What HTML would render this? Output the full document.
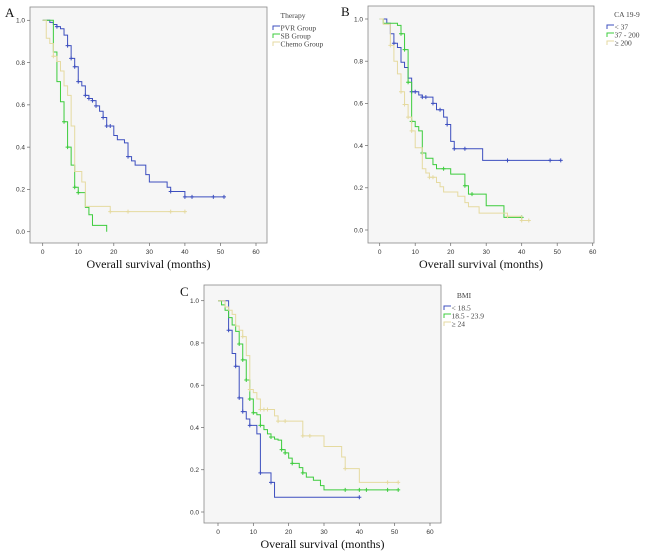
<!DOCTYPE html>
<html><head><meta charset="utf-8"><style>
body{margin:0;background:#fff;}
svg{display:block;font-family:"Liberation Serif",serif;}
</style></head><body>
<svg id="s" width="650" height="555"></svg>
<script>
// Panel A
const aPvrT=[0,2,3,4,5,6,7,8,9,10,11,12,13,14,15,16,17,18,20,21,23,24,25,26,29,30,35,36,40];
const aPvrS=[1,0.99,0.98,0.97,0.96,0.93,0.88,0.82,0.78,0.71,0.69,0.645,0.63,0.62,0.595,0.57,0.54,0.5,0.455,0.435,0.42,0.355,0.335,0.315,0.27,0.235,0.21,0.19,0.165];
const aPvrC=[4,7,8,9,10,12,13,14,15,17,18,19,24,36,40,42,48,51];
const aSbT=[0,3,4,5,6,7,8,9,10,12,13,14,18];
const aSbS=[1,0.85,0.71,0.615,0.52,0.40,0.315,0.21,0.185,0.115,0.08,0.03,0.0];
const aSbC=[6,7,9,10];
const aChT=[0,1,2,3,4,5,6,7,8,9,11,12,19];
const aChS=[1,0.915,0.89,0.83,0.805,0.76,0.69,0.645,0.5,0.285,0.235,0.12,0.095];
const aChC=[3,19,24,36,40];
// Panel B
const bLoT=[0,2,3,4,5,6,7,8,9,11,12,15,16,18,19,20,21,29];
const bLoS=[1,0.98,0.93,0.885,0.865,0.795,0.77,0.72,0.655,0.64,0.63,0.6,0.57,0.535,0.5,0.42,0.385,0.33];
const bLoC=[4,9,10,12,13,15,17,19,21,24,36,48,51];
const bMidT=[0,1,5,6,7,8,9,10,11,12,13,15,16,20,24,25,30,35];
const bMidS=[1,0.98,0.97,0.93,0.855,0.7,0.515,0.49,0.47,0.365,0.34,0.31,0.29,0.265,0.21,0.17,0.115,0.06];
const bMidC=[6,7,8,9,12,18,24,26,40];
const bHiT=[0,1,3,4,5,6,7,8,9,10,12,13,14,16,17,18,22,24,25,28,36,40];
const bHiS=[1,0.975,0.875,0.8,0.74,0.655,0.595,0.535,0.47,0.39,0.29,0.27,0.25,0.225,0.205,0.18,0.16,0.13,0.11,0.08,0.065,0.045];
const bHiC=[3,6,7,8,9,14,15,36,40,42];
// Panel C
const cLoT=[0,3,4,5,6,7,8,9,11,12,15,16];
const cLoS=[1,0.86,0.75,0.69,0.54,0.475,0.44,0.41,0.37,0.185,0.14,0.07];
const cLoC=[3,5,6,7,9,12,15,40];
const cMidT=[0,1,2,3,4,5,6,7,8,9,10,11,12,13,14,15,16,17,18,19,20,21,23,24,25,27,29,30];
const cMidS=[1,0.98,0.955,0.92,0.885,0.855,0.795,0.72,0.625,0.535,0.47,0.46,0.41,0.39,0.37,0.355,0.345,0.34,0.295,0.28,0.255,0.23,0.21,0.185,0.165,0.15,0.125,0.105];
const cMidC=[6,7,8,9,10,12,15,18,19,21,24,36,40,42,48,51];
const cHiT=[0,2,3,4,5,6,7,8,9,10,11,12,16,17,24,30,35,36,40];
const cHiS=[1,0.97,0.955,0.935,0.88,0.86,0.83,0.74,0.58,0.565,0.535,0.485,0.455,0.43,0.36,0.31,0.26,0.205,0.14];
const cHiC=[7,9,12,13,14,17,19,24,26,36,48,51];
const xTicks=[0,10,20,30,40,50,60];
const yTicks=[0,0.2,0.4,0.6,0.8,1.0];

const BLUE="#3d4fbf",GREEN="#3ccc3c",YEL="#e5daa0";
const NS="http://www.w3.org/2000/svg";
const svg=document.getElementById('s');
function mk(tag,attrs,parent,text){const e=document.createElementNS(NS,tag);for(const k in attrs)e.setAttribute(k,attrs[k]);if(text!==undefined)e.textContent=text;(parent||svg).appendChild(e);return e;}

function panel(p){
  const g=mk('g',{});
  
  
  const sx=v=>p.x0+(p.x60-p.x0)*v/60, sy=v=>p.y0+(p.y1-p.y0)*v;
  const box=mk('rect',{x:p.bx,y:p.by,width:p.bw,height:p.bh,fill:"#f6f6f6",stroke:"#8a8a8a","stroke-width":0.8},g);
  
  xTicks.forEach(t=>{mk('line',{x1:sx(t),x2:sx(t),y1:p.by+p.bh,y2:p.by+p.bh+3,stroke:"#666","stroke-width":0.7},g);
    const l=mk('text',{x:sx(t),y:p.by+p.bh+11,"font-size":6.5,"text-anchor":"middle",fill:"#333","font-family":"Liberation Sans,sans-serif"},g,String(t));
    });
  yTicks.forEach(t=>{mk('line',{x1:p.bx-3,x2:p.bx,y1:sy(t),y2:sy(t),stroke:"#666","stroke-width":0.7},g);
    const l=mk('text',{x:p.bx-5,y:sy(t)+2.3,"font-size":6.5,"text-anchor":"end",fill:"#333","font-family":"Liberation Sans,sans-serif"},g,t.toFixed(1));
    });
  const xt=mk('text',{x:p.bx+p.bw/2,y:p.by+p.bh+25,"font-size":12,"text-anchor":"middle",fill:"#111"},g,"Overall survival (months)");
  
  const lab=mk('text',{x:p.lx,y:p.ly,"font-size":13,fill:"#111"},g,p.id);
  
  const lt=mk('text',{x:p.legx+20,y:p.legy,"font-size":7.5,"text-anchor":"middle",fill:"#444"},g,p.legTitle);
  
  p.series.forEach((s,i)=>{
    let d="M"+sx(s.t[0])+","+sy(s.s[0]);
    for(let k=1;k<s.t.length;k++){d+=" H"+sx(s.t[k])+" V"+sy(s.s[k]);}
    const endT=Math.max(s.t[s.t.length-1],...s.c);
    d+=" H"+sx(endT);
    const path=mk('path',{d:d,fill:"none",stroke:s.col,"stroke-width":1},g);
    
    s.c.forEach(c=>{let v=s.s[0];for(let k=0;k<s.t.length;k++){if(s.t[k]<=c)v=s.s[k];}
      const cx=sx(c),cy=sy(v);
      const m=mk('path',{d:`M${cx-2},${cy}H${cx+2}M${cx},${cy-2}V${cy+2}`,stroke:s.col,"stroke-width":1},g);
      });
    const ly=p.legy+11+i*8;
    const lm=mk('path',{d:`M${p.legx},${ly+1}V${ly-3}H${p.legx+7}`,fill:"none",stroke:s.col,"stroke-width":1},g);
    
    const le=mk('text',{x:p.legx+7.5,y:ly+1.5,"font-size":7.5,fill:"#444"},g,s.name);
    
  });
}
panel({id:"A",bx:30,by:7,bw:237,bh:236,x0:42.7,x60:256,y1:20.3,y0:231.7,lx:5,ly:17,legx:273,legy:18,legTitle:"Therapy",
  series:[{key:"pvr",name:"PVR Group",t:aPvrT,s:aPvrS,c:aPvrC,col:BLUE},{key:"sb",name:"SB Group",t:aSbT,s:aSbS,c:aSbC,col:GREEN},{key:"chemo",name:"Chemo Group",t:aChT,s:aChS,c:aChC,col:YEL}]});
panel({id:"B",bx:368,by:6,bw:226,bh:237,x0:379.7,x60:592.7,y1:19,y0:230,lx:341,ly:16,legx:607,legy:17,legTitle:"CA 19-9",
  series:[{key:"lt37",name:"< 37",t:bLoT,s:bLoS,c:bLoC,col:BLUE},{key:"37-200",name:"37 - 200",t:bMidT,s:bMidS,c:bMidC,col:GREEN},{key:"ge200",name:"≥ 200",t:bHiT,s:bHiS,c:bHiC,col:YEL}]});
panel({id:"C",bx:204,by:285,bw:237,bh:238,x0:218,x60:430,y1:300.7,y0:512,lx:180,ly:296,legx:444,legy:298,legTitle:"BMI",
  series:[{key:"lt18",name:"< 18.5",t:cLoT,s:cLoS,c:cLoC,col:BLUE},{key:"18-24",name:"18.5 - 23.9",t:cMidT,s:cMidS,c:cMidC,col:GREEN},{key:"ge24",name:"≥ 24",t:cHiT,s:cHiS,c:cHiC,col:YEL}]});
</script>
</body></html>
